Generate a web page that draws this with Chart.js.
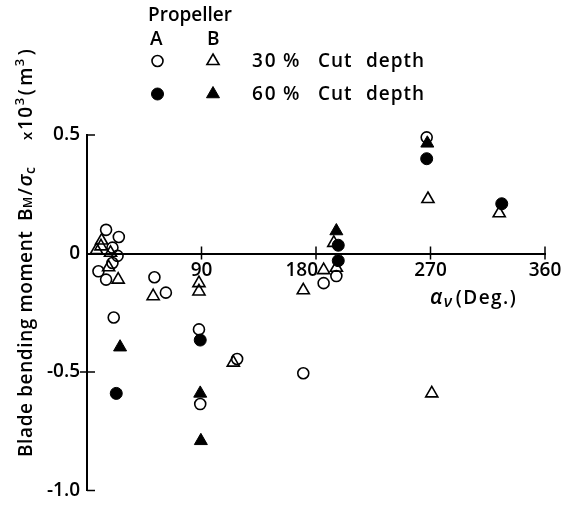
<!DOCTYPE html>
<html>
<head>
<meta charset="utf-8">
<script src="https://cdn.jsdelivr.net/npm/chart.js@4.4.1/dist/chart.umd.min.js"></script>
<style>
  html, body { margin: 0; padding: 0; background: #fff; }
  #wrap { width: 575px; height: 509px; position: relative; }
</style>
</head>
<body>
<div id="wrap"><canvas id="c"></canvas></div>
<script>
/* ---- data: [alpha_v (deg), BM/sigma_c x 10^3 (m^3)] ---- */
var xTicks = [0, 90, 180, 270, 360];
var yTicks = [-1.0, -0.5, 0, 0.5];

// propeller A, 30% cut depth (open circles)
var propA30 = [
  [15, 0.10], [25, 0.07], [20, 0.025], [24, -0.01], [20, -0.04], [9, -0.075],
  [15, -0.11], [21, -0.27], [53, -0.10], [62, -0.165], [88, -0.32], [89, -0.635],
  [118, -0.445], [170, -0.505], [186, -0.125], [196, -0.095], [267, 0.49]
];
// propeller B, 30% cut depth (open triangles)
var propB30 = [
  [7.5, 0.015], [11.5, 0.055], [11, 0.03], [18.5, 0.003], [17, -0.058], [24.5, -0.11],
  [52, -0.18], [88, -0.125], [88, -0.16], [115, -0.46], [170, -0.155], [186, -0.07],
  [196, -0.06], [194, 0.045], [268, 0.23], [271, -0.59], [324, 0.17]
];
// propeller A, 60% cut depth (filled circles)
var propA60 = [
  [23, -0.59], [89, -0.365], [197.5, 0.035], [197.5, -0.03], [267, 0.40], [326, 0.21]
];
// propeller B, 60% cut depth (filled triangles)
var propB60 = [
  [26, -0.395], [89, -0.59], [89.5, -0.79], [196, 0.095], [267.5, 0.465]
];

var FONT = '"Open Sans", "DejaVu Sans", sans-serif';
var W = "600 ";
var INK = "#000";

function pts(arr) {
  return arr.map(function (p) { return { x: p[0], y: p[1] }; });
}

// draw a run of text pieces [text, font, dy, gapAfter] left to right from (x, y)
function drawRun(ctx, parts, x, y) {
  parts.forEach(function (p) {
    ctx.font = p[1];
    ctx.fillText(p[0], x, y + (p[2] || 0));
    x += ctx.measureText(p[0]).width + (p[3] || 0);
  });
  return x;
}

var figurePlugin = {
  id: "figureMarks",
  afterDraw: function (chart) {
    var ctx = chart.ctx;
    var xs = chart.scales.x, ys = chart.scales.y;
    var x0 = xs.getPixelForValue(0), y0 = ys.getPixelForValue(0);
    ctx.save();
    ctx.strokeStyle = INK;
    ctx.fillStyle = INK;

    /* tick marks */
    ctx.lineWidth = 1.5;
    ctx.beginPath();
    xTicks.forEach(function (v) {
      if (v === 0) return;
      var px = xs.getPixelForValue(v);
      ctx.moveTo(px, y0 - 7);
      ctx.lineTo(px, y0 + 6);
    });
    yTicks.forEach(function (v) {
      if (v === 0) return;
      var py = ys.getPixelForValue(v);
      ctx.moveTo(v === -0.5 ? x0 - 7 : x0, py);
      ctx.lineTo(x0 + 8, py);
    });
    ctx.stroke();

    /* x axis title */
    ctx.textBaseline = "alphabetic";
    ctx.textAlign = "left";
    ctx.letterSpacing = "1.5px";
    drawRun(ctx, [
      ["α", "italic " + W + "21px " + FONT, 0, 0],
      ["ν", "italic " + W + "16px " + FONT, 3, 2],
      ["(Deg.)", W + "19px " + FONT, 0, 0]
    ], 430, 304);

    /* y axis title, rotated */
    ctx.save();
    ctx.translate(32, 457);
    ctx.rotate(-Math.PI / 2);
    ctx.letterSpacing = "0.6px";
    drawRun(ctx, [["Blade bending moment", W + "19px " + FONT]], 0, 0);
    ctx.letterSpacing = "0.5px";
    drawRun(ctx, [
      ["B", W + "19px " + FONT, 0, 0],
      ["M", W + "12px " + FONT, 0, 1],
      ["/", W + "19px " + FONT, 0, 1],
      ["σ", "italic " + W + "20px " + FONT, 0, 0],
      ["c", W + "14px " + FONT, 3, 0]
    ], 236, 0);
    drawRun(ctx, [["x", W + "15px " + FONT]], 317, 0);
    ctx.letterSpacing = "1.5px";
    drawRun(ctx, [
      ["10", W + "19px " + FONT, 0, 0],
      ["3", W + "13px " + FONT, -8, 1],
      ["(", W + "19px " + FONT, 0, 2],
      ["m", W + "19px " + FONT, 0, 0],
      ["3", W + "13px " + FONT, -8, 2],
      [")", W + "19px " + FONT, 0, 0]
    ], 327, 0);
    ctx.restore();

    /* legend block */
    ctx.letterSpacing = "0px";
    ctx.font = W + "19px " + FONT;
    ctx.fillText("Propeller", 148, 21);
    ctx.fillText("A", 150, 45);
    ctx.fillText("B", 207, 45);
    var rows = [
      { label: "30", y: 61, a: chart.data.datasets[2], b: chart.data.datasets[3] },
      { label: "60", y: 94, a: chart.data.datasets[0], b: chart.data.datasets[1] }
    ];
    rows.forEach(function (r) {
      [[r.a, 157.5], [r.b, 213]].forEach(function (m) {
        var ds = m[0];
        ctx.fillStyle = ds.backgroundColor;
        ctx.strokeStyle = ds.borderColor;
        ctx.lineWidth = ds.borderWidth;
        Chart.helpers.drawPoint(ctx, {
          pointStyle: ds.pointStyle, radius: ds.pointRadius, rotation: 0, borderWidth: ds.borderWidth
        }, m[1], r.y);
      });
      ctx.fillStyle = INK;
      ctx.font = W + "19px " + FONT;
      ctx.letterSpacing = "2px";
      ctx.fillText(r.label, 252, r.y + 6);
      ctx.letterSpacing = "0px";
      ctx.fillText("%", 283, r.y + 6);
      ctx.letterSpacing = "1px";
      ctx.fillText("Cut", 318, r.y + 6);
      ctx.fillText("depth", 366, r.y + 6);
    });
    ctx.restore();
  }
};

var tickFont = { family: FONT, size: 19, weight: 600 };

new Chart(document.getElementById("c"), {
  type: "scatter",
  data: {
    datasets: [
      { label: "A 60%", data: pts(propA60), pointStyle: "circle", pointRadius: 6,
        backgroundColor: INK, borderColor: INK, borderWidth: 1 },
      { label: "B 60%", data: pts(propB60), pointStyle: "triangle", pointRadius: 7.5,
        backgroundColor: INK, borderColor: INK, borderWidth: 1 },
      { label: "A 30%", data: pts(propA30), pointStyle: "circle", pointRadius: 5.5,
        backgroundColor: "rgba(255,255,255,0)", borderColor: INK, borderWidth: 1.6 },
      { label: "B 30%", data: pts(propB30), pointStyle: "triangle", pointRadius: 7,
        backgroundColor: "rgba(255,255,255,0)", borderColor: INK, borderWidth: 1.6 }
    ]
  },
  options: {
    responsive: true,
    maintainAspectRatio: false,
    animation: false,
    events: [],
    clip: false,
    layout: { padding: { top: 135, right: 30, bottom: 12, left: 0 } },
    plugins: { legend: { display: false }, tooltip: { enabled: false } },
    scales: {
      x: {
        type: "linear", min: 0, max: 360, position: { y: 0 },
        afterBuildTicks: function (s) { s.ticks = xTicks.map(function (v) { return { value: v }; }); },
        ticks: {
          color: INK, font: tickFont, padding: 6, maxRotation: 0, autoSkip: false,
          // the 180 label sits left of its tick in the original, clear of the points
          callback: function (v) { return v === 0 ? "" : v === 180 ? "180\u2003\u2002" : String(v); }
        },
        grid: { display: false, drawTicks: false },
        border: { display: true, color: INK, width: 2 }
      },
      y: {
        type: "linear", min: -1, max: 0.5, position: "left",
        afterBuildTicks: function (s) { s.ticks = yTicks.map(function (v) { return { value: v }; }); },
        afterFit: function (s) { s.width = 87; },
        ticks: {
          color: INK, font: tickFont, padding: 7,
          callback: function (v) { return v === 0 ? "0" : v.toFixed(1); }
        },
        grid: { display: false, drawTicks: false },
        border: { display: true, color: INK, width: 2 }
      }
    }
  },
  plugins: [figurePlugin]
});
</script>
</body>
</html>
